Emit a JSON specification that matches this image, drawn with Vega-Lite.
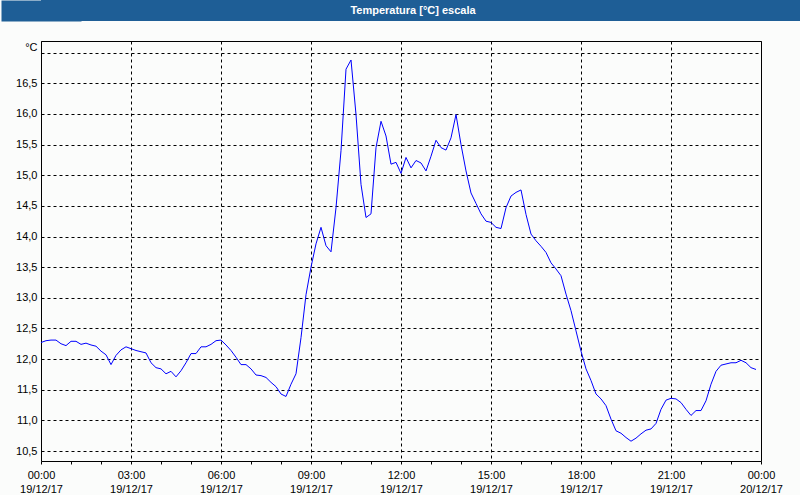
{
  "$schema": "https://vega.github.io/schema/vega-lite/v6.json",
  "background": "#fbfcfb",
  "padding": 0,
  "spacing": 19,
  "config": {
    "font": "Liberation Sans"
  },
  "vconcat": [
    {
      "width": 760,
      "height": 21,
      "view": {"fill": "#1e5e96", "stroke": null},
      "data": {"values": [{"title": "Temperatura [°C] escala"}]},
      "mark": {"type": "text", "color": "#ffffff", "font": "Liberation Sans", "fontSize": 11, "fontWeight": "bold", "dx": -8, "baseline": "middle", "align": "center"},
      "encoding": {
        "text": {"field": "title"},
        "y": {
          "field": "title",
          "type": "nominal",
          "axis": {"title": null, "labels": false, "ticks": false, "grid": false, "domain": true, "domainColor": "#1e5e96", "domainWidth": 80, "domainCap": "butt", "minExtent": 0, "maxExtent": 0}
        }
      }
    },
    {
      "width": 720,
      "height": 420,
      "view": {"stroke": "#000000", "strokeWidth": 1, "fill": null},
      "data": {"values": [
        {"minute": 0, "v": 12.27},
        {"minute": 10, "v": 12.30},
        {"minute": 20, "v": 12.31},
        {"minute": 30, "v": 12.31},
        {"minute": 40, "v": 12.25},
        {"minute": 50, "v": 12.22},
        {"minute": 60, "v": 12.29},
        {"minute": 70, "v": 12.29},
        {"minute": 80, "v": 12.24},
        {"minute": 90, "v": 12.26},
        {"minute": 100, "v": 12.23},
        {"minute": 110, "v": 12.21},
        {"minute": 120, "v": 12.13},
        {"minute": 130, "v": 12.07},
        {"minute": 140, "v": 11.91},
        {"minute": 150, "v": 12.06},
        {"minute": 160, "v": 12.15},
        {"minute": 170, "v": 12.20},
        {"minute": 180, "v": 12.17},
        {"minute": 190, "v": 12.14},
        {"minute": 200, "v": 12.12},
        {"minute": 210, "v": 12.10},
        {"minute": 220, "v": 11.94},
        {"minute": 230, "v": 11.86},
        {"minute": 240, "v": 11.84},
        {"minute": 250, "v": 11.76},
        {"minute": 260, "v": 11.80},
        {"minute": 270, "v": 11.71},
        {"minute": 280, "v": 11.81},
        {"minute": 290, "v": 11.94},
        {"minute": 300, "v": 12.09},
        {"minute": 310, "v": 12.09},
        {"minute": 320, "v": 12.20},
        {"minute": 330, "v": 12.20},
        {"minute": 340, "v": 12.24},
        {"minute": 350, "v": 12.30},
        {"minute": 360, "v": 12.31},
        {"minute": 370, "v": 12.23},
        {"minute": 380, "v": 12.14},
        {"minute": 390, "v": 12.03},
        {"minute": 400, "v": 11.91},
        {"minute": 410, "v": 11.91},
        {"minute": 420, "v": 11.84},
        {"minute": 430, "v": 11.74},
        {"minute": 440, "v": 11.73},
        {"minute": 450, "v": 11.70},
        {"minute": 460, "v": 11.62},
        {"minute": 470, "v": 11.55},
        {"minute": 480, "v": 11.43},
        {"minute": 490, "v": 11.39},
        {"minute": 500, "v": 11.59},
        {"minute": 510, "v": 11.76},
        {"minute": 520, "v": 12.35},
        {"minute": 530, "v": 13.05},
        {"minute": 540, "v": 13.50},
        {"minute": 550, "v": 13.88},
        {"minute": 560, "v": 14.15},
        {"minute": 570, "v": 13.85},
        {"minute": 580, "v": 13.75},
        {"minute": 590, "v": 14.47},
        {"minute": 600, "v": 15.40},
        {"minute": 610, "v": 16.73},
        {"minute": 620, "v": 16.88},
        {"minute": 630, "v": 15.99},
        {"minute": 640, "v": 14.85},
        {"minute": 650, "v": 14.31},
        {"minute": 660, "v": 14.37},
        {"minute": 670, "v": 15.45},
        {"minute": 680, "v": 15.88},
        {"minute": 690, "v": 15.64},
        {"minute": 700, "v": 15.18},
        {"minute": 710, "v": 15.21},
        {"minute": 720, "v": 15.03},
        {"minute": 730, "v": 15.29},
        {"minute": 740, "v": 15.12},
        {"minute": 750, "v": 15.24},
        {"minute": 760, "v": 15.20},
        {"minute": 770, "v": 15.07},
        {"minute": 780, "v": 15.31},
        {"minute": 790, "v": 15.57},
        {"minute": 800, "v": 15.45},
        {"minute": 810, "v": 15.41},
        {"minute": 820, "v": 15.61},
        {"minute": 830, "v": 15.99},
        {"minute": 840, "v": 15.50},
        {"minute": 850, "v": 15.07},
        {"minute": 860, "v": 14.71},
        {"minute": 870, "v": 14.54},
        {"minute": 880, "v": 14.37},
        {"minute": 890, "v": 14.25},
        {"minute": 900, "v": 14.23},
        {"minute": 910, "v": 14.15},
        {"minute": 920, "v": 14.13},
        {"minute": 930, "v": 14.47},
        {"minute": 940, "v": 14.66},
        {"minute": 950, "v": 14.72},
        {"minute": 960, "v": 14.76},
        {"minute": 970, "v": 14.36},
        {"minute": 980, "v": 14.04},
        {"minute": 990, "v": 13.93},
        {"minute": 1000, "v": 13.84},
        {"minute": 1010, "v": 13.74},
        {"minute": 1020, "v": 13.57},
        {"minute": 1030, "v": 13.47},
        {"minute": 1040, "v": 13.36},
        {"minute": 1050, "v": 13.06},
        {"minute": 1060, "v": 12.79},
        {"minute": 1070, "v": 12.46},
        {"minute": 1080, "v": 12.13},
        {"minute": 1090, "v": 11.84},
        {"minute": 1100, "v": 11.65},
        {"minute": 1110, "v": 11.43},
        {"minute": 1120, "v": 11.35},
        {"minute": 1130, "v": 11.24},
        {"minute": 1140, "v": 11.02},
        {"minute": 1150, "v": 10.83},
        {"minute": 1160, "v": 10.79},
        {"minute": 1170, "v": 10.72},
        {"minute": 1180, "v": 10.66},
        {"minute": 1190, "v": 10.71},
        {"minute": 1200, "v": 10.78},
        {"minute": 1210, "v": 10.84},
        {"minute": 1220, "v": 10.86},
        {"minute": 1230, "v": 10.95},
        {"minute": 1240, "v": 11.18},
        {"minute": 1250, "v": 11.33},
        {"minute": 1260, "v": 11.36},
        {"minute": 1270, "v": 11.35},
        {"minute": 1280, "v": 11.29},
        {"minute": 1290, "v": 11.18},
        {"minute": 1300, "v": 11.08},
        {"minute": 1310, "v": 11.16},
        {"minute": 1320, "v": 11.16},
        {"minute": 1330, "v": 11.32},
        {"minute": 1340, "v": 11.59},
        {"minute": 1350, "v": 11.80},
        {"minute": 1360, "v": 11.90},
        {"minute": 1370, "v": 11.92},
        {"minute": 1380, "v": 11.94},
        {"minute": 1390, "v": 11.94},
        {"minute": 1400, "v": 11.98},
        {"minute": 1410, "v": 11.94},
        {"minute": 1420, "v": 11.86},
        {"minute": 1430, "v": 11.83}
      ]},
      "mark": {"type": "line", "color": "#0000ff", "strokeWidth": 1},
      "encoding": {
        "x": {
          "field": "minute",
          "type": "quantitative",
          "scale": {"domain": [0, 1440], "nice": false, "zero": false},
          "axis": {
            "title": null,
            "values": [0, 60, 120, 180, 240, 300, 360, 420, 480, 540, 600, 660, 720, 780, 840, 900, 960, 1020, 1080, 1140, 1200, 1260, 1320, 1380, 1440],
            "domain": false,
            "tickSize": 3,
            "tickColor": "#000000",
            "labelExpr": "datum.value % 180 == 0 ? [((datum.value / 60) % 24 < 10 ? '0' : '') + ((datum.value / 60) % 24) + ':00', datum.value >= 1440 ? '20/12/17' : '19/12/17'] : ''",
            "labelOverlap": false,
            "labelFlush": false,
            "labelFont": "Liberation Sans",
            "labelFontSize": 11,
            "labelColor": "#000000",
            "labelPadding": 5,
            "labelLineHeight": 14,
            "labelBaseline": "top",
            "grid": true,
            "gridColor": "#000000",
            "gridDash": [3, 3],
            "gridWidth": 1,
            "gridOpacity": {"condition": {"test": "datum.value % 180 == 0", "value": 1}, "value": 0}
          }
        },
        "y": {
          "field": "v",
          "type": "quantitative",
          "scale": {"domain": [10.337, 17.19], "nice": false, "zero": false},
          "axis": {
            "title": "°C",
            "titleAngle": 0,
            "titleAlign": "right",
            "titleBaseline": "middle",
            "titleX": -4,
            "titleY": 6,
            "titleFont": "Liberation Sans",
            "titleFontSize": 11,
            "titleFontWeight": "normal",
            "titleColor": "#000000",
            "values": [10.5, 11, 11.5, 12, 12.5, 13, 13.5, 14, 14.5, 15, 15.5, 16, 16.5, 17],
            "labelExpr": "datum.value >= 17 ? '' : replace(format(datum.value, '.1f'), '.', ',')",
            "labelFont": "Liberation Sans",
            "labelFontSize": 11,
            "labelColor": "#000000",
            "labelPadding": 4,
            "ticks": false,
            "tickSize": 0,
            "domain": false,
            "minExtent": 40,
            "maxExtent": 40,
            "grid": true,
            "gridColor": "#000000",
            "gridDash": [3, 3],
            "gridWidth": 1
          }
        }
      }
    }
  ]
}
